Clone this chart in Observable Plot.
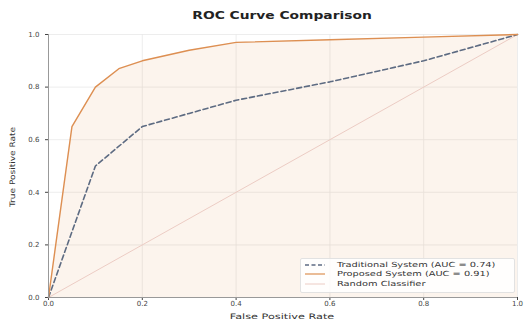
<!DOCTYPE html>
<html><head><meta charset="utf-8">
<script src="https://cdn.jsdelivr.net/npm/d3@7"></script>
<script src="https://cdn.jsdelivr.net/npm/@observablehq/plot@0.6"></script>
<style>
body{margin:0;background:#fff;font-family:"DejaVu Sans",sans-serif;}
#wrap{position:relative;width:525px;height:323px;}
#title{position:absolute;left:282px;top:10px;font-weight:bold;font-size:10px;color:#222;transform:translateX(-50%) scaleX(1.38);white-space:nowrap;}
#xlabel{position:absolute;left:282px;top:312px;font-size:7.5px;line-height:9px;color:#333;transform:translateX(-50%) scaleX(1.5);white-space:nowrap;}
#ylabel{position:absolute;left:12px;top:167px;font-size:7.5px;color:#333;transform:translate(-50%,-50%) rotate(-90deg) scaleX(1.2);white-space:nowrap;}
#chart{position:absolute;left:0;top:26px;}
#legend{position:absolute;left:300px;top:258px;width:215px;height:35px;border:1px solid #e2e2e2;background:rgba(255,255,255,0.85);font-size:7px;color:#333;box-sizing:border-box;padding:1px 0 0 4px;border-radius:2px;}
.row{display:flex;align-items:center;height:9.6px;}
.row svg{margin-right:12px;flex:none;}
.row span{display:inline-block;transform:scaleX(1.4);transform-origin:left center;white-space:nowrap;}
</style></head><body>
<div id="wrap">
<div id="title">ROC Curve Comparison</div>
<div id="chart"></div>
<div id="xlabel">False Positive Rate</div>
<div id="ylabel">True Positive Rate</div>
<div id="legend"></div>
</div>
<script>
const tradFpr = [0, 0.1, 0.2, 0.3, 0.4, 0.6, 0.8, 1.0];
const tradTpr = [0, 0.5, 0.65, 0.7, 0.75, 0.82, 0.9, 1.0];
const propFpr = [0, 0.05, 0.1, 0.15, 0.2, 0.3, 0.4, 0.6, 0.8, 1.0];
const propTpr = [0, 0.65, 0.8, 0.87, 0.9, 0.94, 0.97, 0.98, 0.99, 1.0];
const randFpr = [0, 1];
const randTpr = [0, 1];
const ticks = [0, 0.2, 0.4, 0.6, 0.8, 1.0];
const seriesNames = ["Traditional System (AUC = 0.74)", "Proposed System (AUC = 0.91)", "Random Classifier"];

const trad = tradFpr.map((x,i)=>({x, y: tradTpr[i]}));
const prop = propFpr.map((x,i)=>({x, y: propTpr[i]}));
const rand = randFpr.map((x,i)=>({x, y: randTpr[i]}));

const cTrad = "#5d6b82", cProp = "#dd8f52", cRand = "#ecccc4";

const chart = Plot.plot({
  width: 525, height: 297,
  marginLeft: 48, marginRight: 8, marginTop: 8, marginBottom: 26,
  style: {fontFamily: "DejaVu Sans, sans-serif", fontSize: "7px", color: "#444", background: "transparent"},
  x: {domain: [0, 1], ticks, tickFormat: d3.format(".1f"), label: null, tickSize: 3, tickPadding: 1},
  y: {domain: [0, 1], ticks, tickFormat: d3.format(".1f"), label: null, tickSize: 3},
  marks: [
    Plot.gridX(ticks, {stroke: "#e8e8e8", strokeOpacity: 1, strokeWidth: 0.8}),
    Plot.gridY(ticks, {stroke: "#e8e8e8", strokeOpacity: 1, strokeWidth: 0.8}),
    Plot.areaY(prop, {x: "x", y: "y", fill: cProp, fillOpacity: 0.1}),
    Plot.line(rand, {x: "x", y: "y", stroke: cRand, strokeWidth: 1}),
    Plot.line(trad, {x: "x", y: "y", stroke: cTrad, strokeWidth: 1.6, strokeDasharray: "5,3"}),
    Plot.line(prop, {x: "x", y: "y", stroke: cProp, strokeWidth: 1.4}),
    Plot.ruleX([0], {stroke: "#999", strokeWidth: 1}),
    Plot.ruleY([0], {stroke: "#999", strokeWidth: 1})
  ]
});
document.getElementById("chart").appendChild(chart);

const styles = [{c: cTrad, d: "4,2.5", w: 1.5}, {c: cProp, d: null, w: 1.2}, {c: cRand, d: null, w: 1}];
const leg = document.getElementById("legend");
seriesNames.forEach((name, i) => {
  const row = document.createElement("div"); row.className = "row";
  const s = styles[i];
  row.innerHTML = `<svg width="20" height="6"><line x1="0" x2="20" y1="3" y2="3" stroke="${s.c}" stroke-width="${s.w}" ${s.d ? `stroke-dasharray="${s.d}"` : ""}/></svg><span>${name}</span>`;
  leg.appendChild(row);
});
</script>
</body></html>
